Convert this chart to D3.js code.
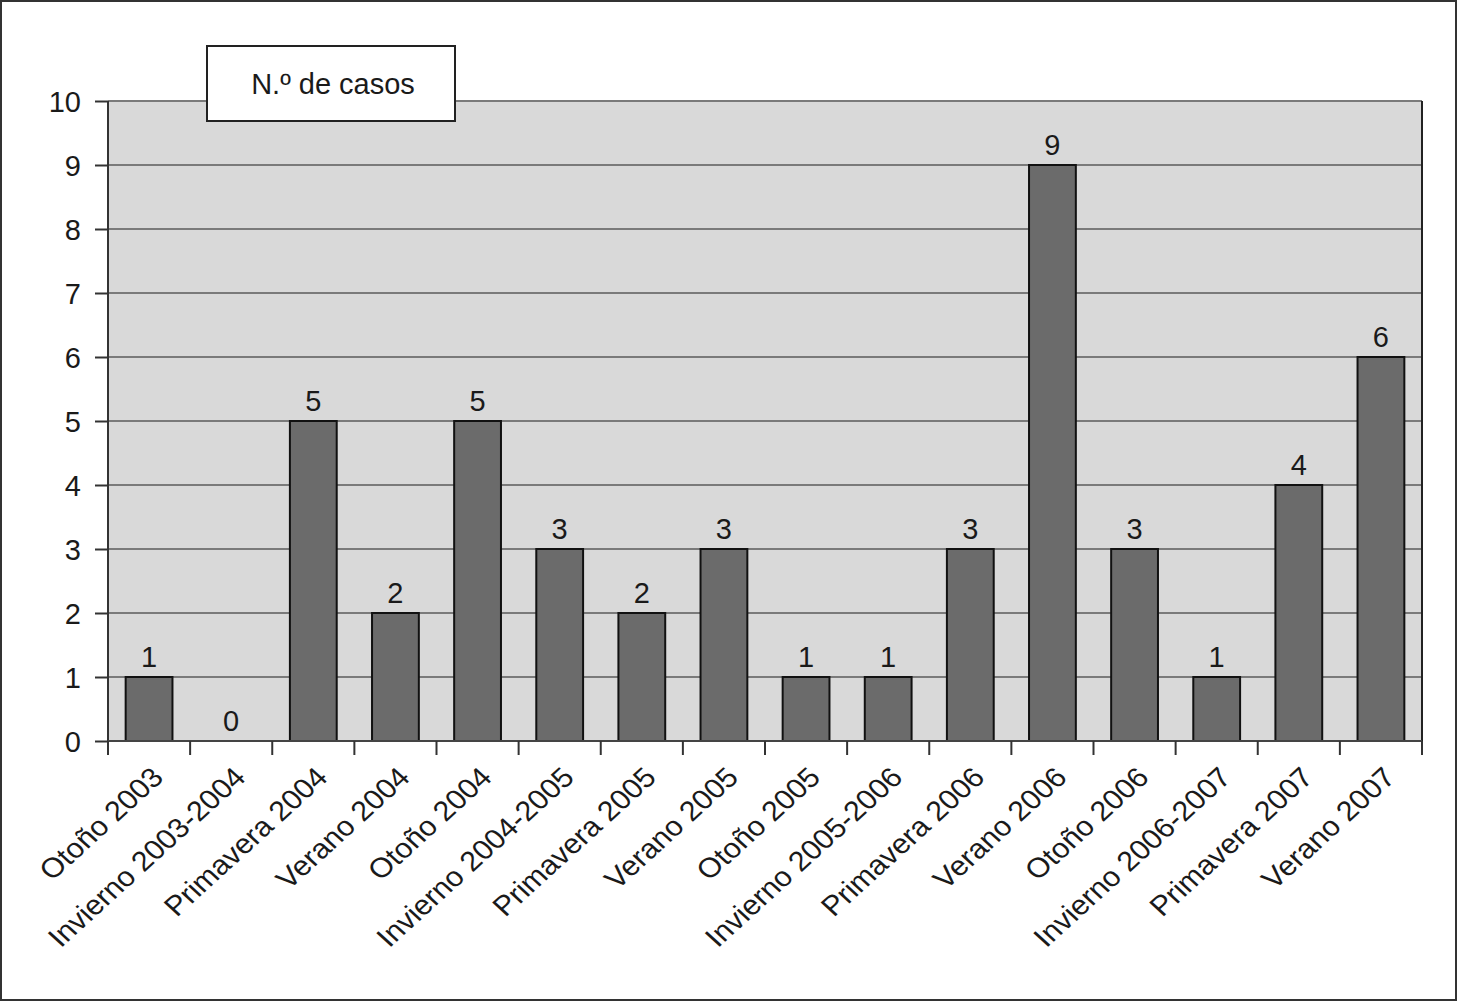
<!DOCTYPE html>
<html><head><meta charset="utf-8">
<script src="https://cdn.jsdelivr.net/npm/d3@7"></script>
<style>body{margin:0;background:#fff;} svg{display:block;} text{font-family:"Liberation Sans",Arial,Helvetica,sans-serif;fill:#1a1a1a;}</style>
</head><body>
<svg id="c" width="1458" height="1002"></svg>
<script>
const categories = ["Otoño 2003","Invierno 2003-2004","Primavera 2004","Verano 2004","Otoño 2004","Invierno 2004-2005","Primavera 2005","Verano 2005","Otoño 2005","Invierno 2005-2006","Primavera 2006","Verano 2006","Otoño 2006","Invierno 2006-2007","Primavera 2007","Verano 2007"];
const casos = [1,0,5,2,5,3,2,3,1,1,3,9,3,1,4,6];
const yTicks = [0,1,2,3,4,5,6,7,8,9,10];
const legendLabel = "N.º de casos";

const svg = d3.select("#c");
const L = 108, R = 1422, T = 101, B = 741;

svg.append("rect").attr("x",1).attr("y",1).attr("width",1455).attr("height",999)
  .attr("fill","#fff").attr("stroke","#333").attr("stroke-width",2);

const x = d3.scaleBand().domain(categories).range([L,R]).paddingInner(0.43).paddingOuter(0.215);
const xb = d3.scaleBand().domain(categories).range([L,R]);
const y = d3.scaleLinear().domain([0,10]).range([B,T]);

svg.append("rect").attr("x",L).attr("y",T).attr("width",R-L).attr("height",B-T).attr("fill","#d9d9d9");

svg.append("g").selectAll("line").data(yTicks.filter(d=>d>0)).join("line")
  .attr("x1",L).attr("x2",R).attr("y1",d=>y(d)).attr("y2",d=>y(d))
  .attr("stroke","#7a7a7a").attr("stroke-width",2);

// right border
svg.append("line").attr("x1",R).attr("x2",R).attr("y1",T).attr("y2",B).attr("stroke","#222").attr("stroke-width",2);

// bars
svg.append("g").selectAll("rect").data(casos).join("rect")
  .attr("x",(d,i)=>x(categories[i])).attr("width",x.bandwidth())
  .attr("y",d=>y(d)).attr("height",d=>B-y(d))
  .attr("fill","#6b6b6b").attr("stroke","#111").attr("stroke-width",2)
  .style("display",d=>d>0?null:"none");

// value labels
svg.append("g").selectAll("text").data(casos).join("text")
  .attr("x",(d,i)=>x(categories[i])+x.bandwidth()/2).attr("y",d=>y(d)-10)
  .attr("text-anchor","middle").attr("font-size",29).text(d=>d);

// y axis
const ya = svg.append("g").attr("transform",`translate(${L},0)`)
  .call(d3.axisLeft(y).tickValues(yTicks).tickSize(13).tickPadding(14).tickFormat(d3.format("d")));
ya.select(".domain").attr("stroke","#333").attr("stroke-width",2).attr("d",`M0,${T}V${B}`);
ya.selectAll(".tick line").attr("stroke","#333").attr("stroke-width",2);
ya.selectAll(".tick text").attr("font-size",29).attr("fill","#1a1a1a").attr("font-family",null).attr("dy","0.36em");

// x axis
const xa = svg.append("g").attr("transform",`translate(0,${B})`);
xa.append("line").attr("x1",L).attr("x2",R).attr("y1",0).attr("y2",0).attr("stroke","#444").attr("stroke-width",2);
const bounds = categories.map(c=>xb(c)).concat([R]);
xa.selectAll("line.tk").data(bounds).join("line").attr("class","tk")
  .attr("x1",d=>d).attr("x2",d=>d).attr("y1",0).attr("y2",14).attr("stroke","#333").attr("stroke-width",2);
xa.selectAll("text").data(categories).join("text")
  .attr("transform",c=>`translate(${xb(c)+xb.bandwidth()/2+16},${38}) scale(1.1,1) rotate(-45)`)
  .attr("text-anchor","end").attr("font-size",27.8).text(c=>c);

// legend box
const lg = svg.append("g");
lg.append("rect").attr("x",207).attr("y",46).attr("width",248).attr("height",75)
  .attr("fill","#fff").attr("stroke","#222").attr("stroke-width",2);
lg.append("text").attr("x",333).attr("y",94).attr("text-anchor","middle").attr("font-size",29).text(legendLabel);
</script>
</body></html>
